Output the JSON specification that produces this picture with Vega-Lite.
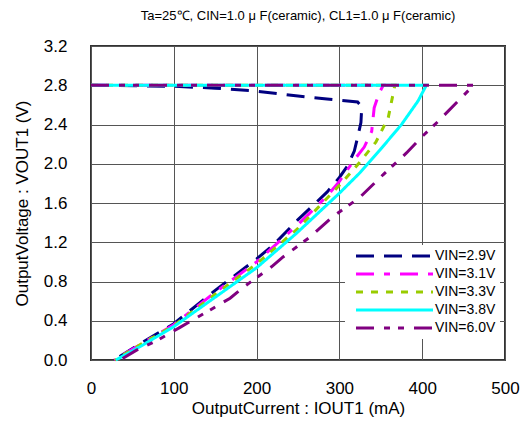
{
  "$schema": "https://vega.github.io/schema/vega-lite/v6.json",
  "autosize": "none",
  "padding": {"left": 91, "top": 46, "right": 18, "bottom": 70},
  "width": 414,
  "height": 314,
  "background": "white",
  "title": {"text": "Ta=25℃, CIN=1.0 μ F(ceramic), CL1=1.0 μ F(ceramic)", "font": "Liberation Sans", "fontSize": 13, "fontWeight": "normal", "color": "#000", "anchor": "middle", "offset": 14},
  "data": {"values": [
    {"s": "VIN=2.9V", "o": 1, "x": 0, "y": 2.80},
    {"s": "VIN=2.9V", "o": 2, "x": 100, "y": 2.79},
    {"s": "VIN=2.9V", "o": 3, "x": 150, "y": 2.77},
    {"s": "VIN=2.9V", "o": 4, "x": 200, "y": 2.74},
    {"s": "VIN=2.9V", "o": 5, "x": 250, "y": 2.69},
    {"s": "VIN=2.9V", "o": 6, "x": 285, "y": 2.66},
    {"s": "VIN=2.9V", "o": 7, "x": 322, "y": 2.63},
    {"s": "VIN=2.9V", "o": 8, "x": 327, "y": 2.58},
    {"s": "VIN=2.9V", "o": 9, "x": 326, "y": 2.42},
    {"s": "VIN=2.9V", "o": 10, "x": 322, "y": 2.27},
    {"s": "VIN=2.9V", "o": 11, "x": 318, "y": 2.13},
    {"s": "VIN=2.9V", "o": 12, "x": 310, "y": 1.98},
    {"s": "VIN=2.9V", "o": 13, "x": 300, "y": 1.86},
    {"s": "VIN=2.9V", "o": 14, "x": 285, "y": 1.71},
    {"s": "VIN=2.9V", "o": 15, "x": 250, "y": 1.43},
    {"s": "VIN=2.9V", "o": 16, "x": 220, "y": 1.17},
    {"s": "VIN=2.9V", "o": 17, "x": 200, "y": 1.03},
    {"s": "VIN=2.9V", "o": 18, "x": 150, "y": 0.71},
    {"s": "VIN=2.9V", "o": 19, "x": 100, "y": 0.37},
    {"s": "VIN=2.9V", "o": 20, "x": 60, "y": 0.17},
    {"s": "VIN=2.9V", "o": 21, "x": 28, "y": 0.00},
    {"s": "VIN=3.1V", "o": 1, "x": 0, "y": 2.80},
    {"s": "VIN=3.1V", "o": 2, "x": 353, "y": 2.80},
    {"s": "VIN=3.1V", "o": 3, "x": 348, "y": 2.72},
    {"s": "VIN=3.1V", "o": 4, "x": 342, "y": 2.57},
    {"s": "VIN=3.1V", "o": 5, "x": 339, "y": 2.33},
    {"s": "VIN=3.1V", "o": 6, "x": 330, "y": 2.17},
    {"s": "VIN=3.1V", "o": 7, "x": 318, "y": 2.04},
    {"s": "VIN=3.1V", "o": 8, "x": 300, "y": 1.82},
    {"s": "VIN=3.1V", "o": 9, "x": 285, "y": 1.67},
    {"s": "VIN=3.1V", "o": 10, "x": 250, "y": 1.38},
    {"s": "VIN=3.1V", "o": 11, "x": 200, "y": 1.00},
    {"s": "VIN=3.1V", "o": 12, "x": 150, "y": 0.69},
    {"s": "VIN=3.1V", "o": 13, "x": 100, "y": 0.36},
    {"s": "VIN=3.1V", "o": 14, "x": 60, "y": 0.16},
    {"s": "VIN=3.1V", "o": 15, "x": 28, "y": 0.00},
    {"s": "VIN=3.3V", "o": 1, "x": 0, "y": 2.80},
    {"s": "VIN=3.3V", "o": 2, "x": 367, "y": 2.80},
    {"s": "VIN=3.3V", "o": 3, "x": 359, "y": 2.47},
    {"s": "VIN=3.3V", "o": 4, "x": 344, "y": 2.22},
    {"s": "VIN=3.3V", "o": 5, "x": 323, "y": 2.00},
    {"s": "VIN=3.3V", "o": 6, "x": 300, "y": 1.78},
    {"s": "VIN=3.3V", "o": 7, "x": 250, "y": 1.34},
    {"s": "VIN=3.3V", "o": 8, "x": 200, "y": 0.98},
    {"s": "VIN=3.3V", "o": 9, "x": 150, "y": 0.67},
    {"s": "VIN=3.3V", "o": 10, "x": 100, "y": 0.35},
    {"s": "VIN=3.3V", "o": 11, "x": 60, "y": 0.16},
    {"s": "VIN=3.3V", "o": 12, "x": 29, "y": 0.00},
    {"s": "VIN=3.8V", "o": 1, "x": 0, "y": 2.80},
    {"s": "VIN=3.8V", "o": 2, "x": 405, "y": 2.80},
    {"s": "VIN=3.8V", "o": 3, "x": 395, "y": 2.64},
    {"s": "VIN=3.8V", "o": 4, "x": 375, "y": 2.40},
    {"s": "VIN=3.8V", "o": 5, "x": 349, "y": 2.14},
    {"s": "VIN=3.8V", "o": 6, "x": 325, "y": 1.91},
    {"s": "VIN=3.8V", "o": 7, "x": 300, "y": 1.70},
    {"s": "VIN=3.8V", "o": 8, "x": 248, "y": 1.29},
    {"s": "VIN=3.8V", "o": 9, "x": 200, "y": 0.94},
    {"s": "VIN=3.8V", "o": 10, "x": 150, "y": 0.64},
    {"s": "VIN=3.8V", "o": 11, "x": 100, "y": 0.34},
    {"s": "VIN=3.8V", "o": 12, "x": 60, "y": 0.14},
    {"s": "VIN=3.8V", "o": 13, "x": 30, "y": 0.00},
    {"s": "VIN=6.0V", "o": 1, "x": 0, "y": 2.80},
    {"s": "VIN=6.0V", "o": 2, "x": 462, "y": 2.80},
    {"s": "VIN=6.0V", "o": 3, "x": 447, "y": 2.67},
    {"s": "VIN=6.0V", "o": 4, "x": 419, "y": 2.43},
    {"s": "VIN=6.0V", "o": 5, "x": 399, "y": 2.27},
    {"s": "VIN=6.0V", "o": 6, "x": 381, "y": 2.11},
    {"s": "VIN=6.0V", "o": 7, "x": 353, "y": 1.89},
    {"s": "VIN=6.0V", "o": 8, "x": 325, "y": 1.66},
    {"s": "VIN=6.0V", "o": 9, "x": 292, "y": 1.46},
    {"s": "VIN=6.0V", "o": 10, "x": 264, "y": 1.25},
    {"s": "VIN=6.0V", "o": 11, "x": 232, "y": 1.05},
    {"s": "VIN=6.0V", "o": 12, "x": 218, "y": 0.95},
    {"s": "VIN=6.0V", "o": 13, "x": 187, "y": 0.76},
    {"s": "VIN=6.0V", "o": 14, "x": 168, "y": 0.63},
    {"s": "VIN=6.0V", "o": 15, "x": 144, "y": 0.51},
    {"s": "VIN=6.0V", "o": 16, "x": 107, "y": 0.33},
    {"s": "VIN=6.0V", "o": 17, "x": 80, "y": 0.20},
    {"s": "VIN=6.0V", "o": 18, "x": 55, "y": 0.10},
    {"s": "VIN=6.0V", "o": 19, "x": 35, "y": 0.00}
  ]},
  "mark": {"type": "line", "strokeWidth": 3, "strokeCap": "butt"},
  "encoding": {
    "x": {"field": "x", "type": "quantitative", "scale": {"domain": [0, 500], "nice": false},
      "axis": {"values": [0, 100, 200, 300, 400, 500], "title": "OutputCurrent : IOUT1 (mA)", "labelPadding": 20, "titlePadding": 4, "labelFlush": false}},
    "y": {"field": "y", "type": "quantitative", "scale": {"domain": [0, 3.2], "nice": false},
      "axis": {"values": [0, 0.4, 0.8, 1.2, 1.6, 2.0, 2.4, 2.8, 3.2], "format": ".1f", "title": "OutputVoltage : VOUT1 (V)", "labelPadding": 24, "titlePadding": 12, "labelFlush": false}},
    "order": {"field": "o", "type": "quantitative"},
    "color": {"field": "s", "type": "nominal", "title": null,
      "scale": {"domain": ["VIN=2.9V", "VIN=3.1V", "VIN=3.3V", "VIN=3.8V", "VIN=6.0V"], "range": ["#000080", "#FF00FF", "#99CC00", "#00FFFF", "#800080"]},
      "legend": {"orient": "none", "legendX": 254, "legendY": 199}},
    "strokeDash": {"field": "s", "type": "nominal", "title": null,
      "scale": {"domain": ["VIN=2.9V", "VIN=3.1V", "VIN=3.3V", "VIN=3.8V", "VIN=6.0V"], "range": [[18, 10], [18, 10, 6, 10], [7, 8], [1, 0], [18, 10, 6, 8, 6, 10]]},
      "legend": {"orient": "none", "legendX": 254, "legendY": 199}}
  },
  "config": {
    "view": {"stroke": "#333", "strokeWidth": 2},
    "axis": {"grid": true, "gridColor": "#555", "gridWidth": 1, "domain": false, "ticks": false,
      "labelFont": "Liberation Sans", "labelFontSize": 17, "labelColor": "#000",
      "titleFont": "Liberation Sans", "titleFontSize": 17, "titleFontWeight": "normal", "titleColor": "#000"},
    "legend": {"symbolType": "M0,0H20", "symbolSize": 59.29, "symbolStrokeWidth": 3, "labelFont": "Liberation Sans",
      "labelFontSize": 14, "labelColor": "#000", "rowPadding": 4, "labelOffset": 72, "padding": 4, "fillColor": "white"}
  }
}
